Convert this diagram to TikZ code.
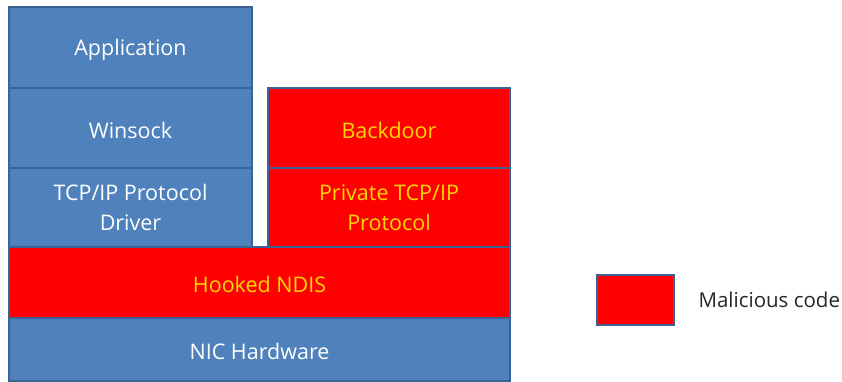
\documentclass[tikz,border=0pt]{standalone}
\usepackage{fontspec}
\setmainfont{Open Sans}
\definecolor{edge}{HTML}{3B6494}
\definecolor{bluefill}{HTML}{4F81BD}
\definecolor{redfill}{HTML}{FF0000}
\definecolor{yel}{HTML}{FFD700}
\definecolor{txt}{HTML}{262626}
\begin{document}
\begin{tikzpicture}[x=1pt,y=-1pt,
  layer/.style={draw=edge,line width=2.5pt,inner sep=0pt,outer sep=0pt,align=center,font=\fontsize{21.5}{30}\selectfont},
  good/.style={layer,fill=bluefill,text=white},
  bad/.style={layer,fill=redfill,text=yel},
  lbl/.style={yshift=-2pt}]
\useasboundingbox (0,0) rectangle (842,382);
\path[good] (9,7) rectangle node[lbl] (app) {Application} (252,88);
\path[good] (9,88) rectangle node[lbl] (ws) {Winsock} (252,168);
\path[good] (9,168) rectangle node (tcp) {TCP/IP Protocol\\Driver} (252,247);
\path[bad] (268,88) rectangle node[lbl] (bd) {Backdoor} (510,168);
\path[bad] (268,168) rectangle node (ptcp) {Private TCP/IP\\Protocol} (510,247);
\path[bad] (9,247) rectangle node[lbl] (ndis) {Hooked NDIS} (510,318);
\path[good] (9,318) rectangle node[lbl] (nic) {NIC Hardware} (510,381);
\path[bad] (597,275) rectangle (674,325);
\node[anchor=west,text=txt,font=\fontsize{20.5}{24}\selectfont] (leg) at (695,300) {Malicious code};
\end{tikzpicture}
\end{document}
